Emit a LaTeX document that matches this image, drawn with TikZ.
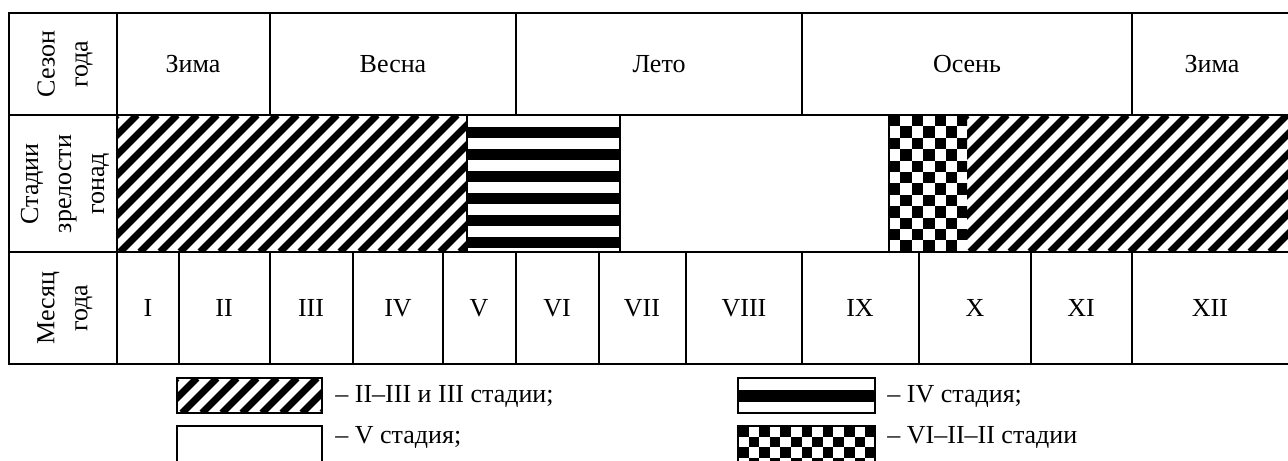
\documentclass[tikz,border=0pt]{standalone}
\usepackage{fontspec}
\setmainfont{Liberation Serif}
\usepackage{tikz}
\usetikzlibrary{positioning}
\tikzset{
  grid/.style={line width=0.8pt},
  lbl/.style={font=\fontsize{13}{16.5}\selectfont, inner sep=0pt},
  side/.style={lbl, rotate=90, align=center},
  legtext/.style={font=\fontsize{13}{15}\selectfont, anchor=base west, inner sep=0pt},
  hatchline/.style={line width=3.5pt},
}
% diagonal hatch: x1, y1, x2, y2 (pixels, y down)
\newcommand{\diagfill}[4]{%
  \begin{scope}
    \clip (#1,#2) rectangle (#3,#4);
    \pgfmathsetmacro{\hstart}{#1-(#4-#2)-20}
    \pgfmathsetmacro{\hnext}{\hstart+20}
    \foreach \h in {\hstart,\hnext,...,#3}
      \draw[hatchline] (\h,#4) -- ++(#4-#2,#2-#4);
  \end{scope}}
% checkerboard: x1, y1, x2, y2, square size
\newcommand{\checkfill}[5]{%
  \begin{scope}
    \clip (#1,#2) rectangle (#3,#4);
    \foreach \i in {0,...,13} \foreach \j in {0,...,13} {
      \pgfmathtruncatemacro{\chk}{mod(\i+\j,2)}
      \ifnum\chk=0 \fill (#1+\i*#5,#2+\j*#5) rectangle ++(#5,#5); \fi}
  \end{scope}}
\begin{document}
\begin{tikzpicture}[x=0.5pt, y=-0.5pt]
  \useasboundingbox (0,0) rectangle (1288,460);
  % stage row fills
  \diagfill{117}{115}{467}{252}
  \foreach \k in {0,...,5}
    \fill (467,127+22*\k) rectangle (620,137.5+22*\k);
  \checkfill{889}{115}{967}{252}{11.4}
  \diagfill{967}{115}{1288}{252}
  % table lines
  \draw[grid] (1288,13) -- (9,13) -- (9,364) -- (1288,364);
  \draw[grid] (9,115) -- (1288,115);
  \draw[grid] (9,252) -- (1288,252);
  \draw[grid] (117,13) -- (117,364);
  \foreach \x in {270,516,802,1132}
    \draw[grid] (\x,13) -- (\x,115);
  \foreach \x in {467,620,889}
    \draw[grid] (\x,115) -- (\x,252);
  \foreach \x in {179,270,353,443,516,599,686,802,919,1031,1132}
    \draw[grid] (\x,252) -- (\x,364);
  % row titles
  \node[side] (tsez) at (65,64) {Сезон\\года};
  \node[side] (tst) at (65,184) {Стадии\\зрелости\\гонад};
  \node[side] (tmes) at (65,308) {Месяц\\года};
  % seasons
  \node[lbl] (s1) at (193,64) {Зима};
  \node[lbl] (s2) at (393,64) {Весна};
  \node[lbl] (s3) at (659,64) {Лето};
  \node[lbl] (s4) at (967,64) {Осень};
  \node[lbl] (s5) at (1212,64) {Зима};
  % months
  \foreach \x/\m [count=\n] in {148/I, 224/II, 311/III, 398/IV, 479/V, 557/VI,
      642/VII, 744/VIII, 860/IX, 975/X, 1081/XI, 1210/XII}
    \node[lbl] (m\n) at (\x,308) {\m};
  % legend
  \diagfill{177}{378}{322}{413}
  \draw[grid] (177,378) rectangle (322,413);
  \node[legtext] (l1) at (335,402) {– II–III и III стадии;};
  \draw[grid] (177,462) -- (177,426) -- (322,426) -- (322,462);
  \node[legtext] (l2) at (335,443) {– V стадия;};
  \fill (738,390) rectangle (875,401.5);
  \draw[grid] (738,378) rectangle (875,413);
  \node[legtext] (l3) at (887,402) {– IV стадия;};
  \checkfill{738}{426}{875}{462}{10.6}
  \draw[grid] (738,462) -- (738,426) -- (875,426) -- (875,462);
  \node[legtext] (l4) at (887,443) {– VI–II–II стадии};
\end{tikzpicture}
\end{document}
